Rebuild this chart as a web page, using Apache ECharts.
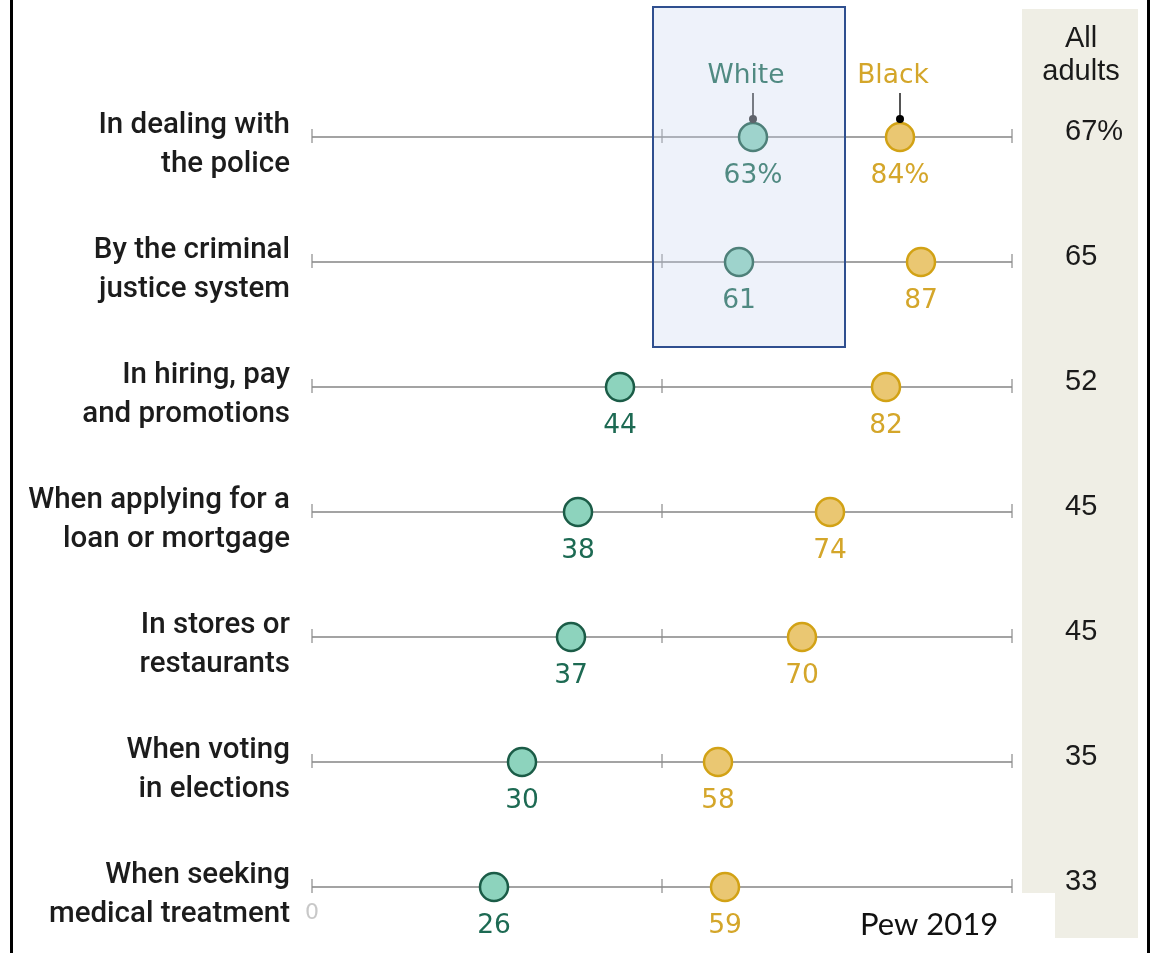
<!DOCTYPE html>
<html>
<head>
<meta charset="utf-8">
<script src="https://cdn.jsdelivr.net/npm/echarts@6/dist/echarts.min.js"></script>
<style>html,body{margin:0;padding:0;background:#fff;}#c{width:1158px;height:953px;}</style>
</head>
<body>
<div id="c"></div>
<script>
const categories = ['In dealing with\nthe police', 'By the criminal\njustice system', 'In hiring, pay\nand promotions', 'When applying for a\nloan or mortgage', 'In stores or\nrestaurants', 'When voting\nin elections', 'When seeking\nmedical treatment'];
const whiteValues = [63, 61, 44, 38, 37, 30, 26];
const blackValues = [84, 87, 82, 74, 70, 58, 59];
const allAdults = ['67%', '65', '52', '45', '45', '35', '33'];
const axisTicks = [0, 50, 100];
const seriesNames = ['White', 'Black'];

const FONT = 'Roboto, "Liberation Sans", sans-serif';
const NUMFONT = '"DejaVu Sans", Verdana, sans-serif';
const ARIAL = '"Liberation Sans", Arial, sans-serif';
const chart = echarts.init(document.getElementById('c'));

const rowData = categories.map((c, i) => [axisTicks[0], axisTicks[axisTicks.length - 1], i]);
const pct = p => p.dataIndex === 0 ? p.value[0] + '%' : String(p.value[0]);

const option = {
  animation: false,
  grid: { left: 312, right: 146, top: 74.5, height: 875 },
  xAxis: { type: 'value', min: 0, max: 100, show: false },
  yAxis: { type: 'category', data: categories, inverse: true, show: false },
  graphic: [
    { type: 'rect', z: -5, shape: { x: 1022, y: 9, width: 116, height: 929 }, style: { fill: '#efeee5' } },
    { type: 'rect', z: 50, shape: { x: 653, y: 7, width: 192, height: 340 }, style: { fill: 'rgba(198,212,238,0.3)', stroke: '#2f4f8f', lineWidth: 2 } },
    { type: 'text', z: 10, style: { x: 1081, y: 39, text: 'All', font: '29px ' + ARIAL, fill: '#1a1a1a', align: 'center', verticalAlign: 'middle' } },
    { type: 'text', z: 10, style: { x: 1081, y: 72, text: 'adults', font: '29px ' + ARIAL, fill: '#1a1a1a', align: 'center', verticalAlign: 'middle' } },
    { type: 'rect', z: 100, shape: { x: 830, y: 893, width: 225, height: 60 }, style: { fill: '#fff' } },
    { type: 'text', z: 101, style: { x: 929, y: 925, text: 'Pew 2019', font: '31px Lato, "Open Sans", sans-serif', fill: '#111', align: 'center', verticalAlign: 'middle' } },
    { type: 'rect', z: 102, shape: { x: 10, y: 0, width: 3, height: 953 }, style: { fill: '#000' } },
    { type: 'rect', z: 102, shape: { x: 1147, y: 0, width: 3, height: 953 }, style: { fill: '#000' } }
  ],
  series: [
    {
      type: 'custom', z: 1, silent: true,
      data: rowData,
      renderItem: function (params, api) {
        const i = params.dataIndex;
        const y = api.value(2);
        const s = api.coord([api.value(0), y]);
        const e = api.coord([api.value(1), y]);
        const children = [{ type: 'line', shape: { x1: s[0], y1: s[1], x2: e[0], y2: e[1] }, style: { stroke: '#a3a3a3', lineWidth: 2 } }];
        axisTicks.forEach(t => {
          const p = api.coord([t, y]);
          children.push({ type: 'line', shape: { x1: p[0], y1: p[1] - 8, x2: p[0], y2: p[1] + 6 }, style: { stroke: '#8a8a8a', lineWidth: 1.2 } });
        });
        children.push({ type: 'text', style: { x: s[0] - 22, y: s[1] + 8, text: categories[i], font: '500 29.5px ' + FONT, lineHeight: 39, fill: '#1c1c1c', align: 'right', verticalAlign: 'middle' } });
        children.push({ type: 'text', style: { x: e[0] + 53, y: e[1] - 5, text: allAdults[i], font: '29px ' + ARIAL, fill: '#1a1a1a', align: 'left', verticalAlign: 'middle' } });
        if (i === categories.length - 1) {
          const p = api.coord([0, y]);
          children.push({ type: 'text', style: { x: p[0], y: p[1] + 26, text: '0', font: '22px ' + NUMFONT, fill: '#c8c8c8', align: 'center', verticalAlign: 'middle' } });
        }
        return { type: 'group', children };
      }
    },
    {
      name: seriesNames[0], type: 'scatter', z: 5, symbolSize: 28,
      data: whiteValues.map((v, i) => [v, i]),
      itemStyle: { color: '#8dd3bd', borderColor: '#1b5c47', borderWidth: 2.5, opacity: 1 },
      label: { show: true, position: 'bottom', distance: 10, fontFamily: NUMFONT, fontSize: 26.5, color: '#1d6a53', formatter: pct }
    },
    {
      name: seriesNames[1], type: 'scatter', z: 5, symbolSize: 28,
      data: blackValues.map((v, i) => [v, i]),
      itemStyle: { color: '#eac772', borderColor: '#d2a215', borderWidth: 2.5, opacity: 1 },
      label: { show: true, position: 'bottom', distance: 10, fontFamily: NUMFONT, fontSize: 26.5, color: '#d4a62a', formatter: pct }
    },
    {
      type: 'custom', z: 6, silent: true,
      data: [[whiteValues[0], 0, 0], [blackValues[0], 0, 1]],
      renderItem: function (params, api) {
        const p = api.coord([api.value(0), api.value(1)]);
        const isWhite = api.value(2) === 0;
        const col = isWhite ? '#1d6a53' : '#d4a62a';
        return {
          type: 'group', children: [
            { type: 'line', shape: { x1: p[0], y1: p[1] - 44, x2: p[0], y2: p[1] - 19 }, style: { stroke: '#555', lineWidth: 2 } },
            { type: 'circle', shape: { cx: p[0], cy: p[1] - 18, r: 4 }, style: { fill: isWhite ? '#333' : '#000' } },
            { type: 'text', style: { x: p[0] - 7, y: p[1] - 61, text: seriesNames[api.value(2)], font: '26.5px ' + NUMFONT, fill: col, align: 'center', verticalAlign: 'middle' } }
          ]
        };
      }
    }
  ]
};
chart.setOption(option);
</script>
</body>
</html>
